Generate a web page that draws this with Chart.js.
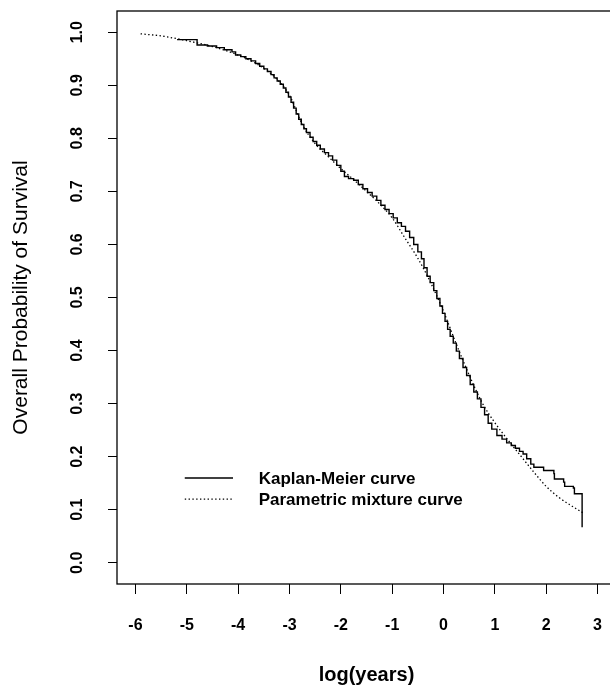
<!DOCTYPE html>
<html>
<head>
<meta charset="utf-8">
<script src="https://cdn.jsdelivr.net/npm/chart.js"></script>
<style>
html,body{margin:0;padding:0;background:#fff;overflow:hidden;width:610px;height:688px;}
canvas{display:block;}
</style>
</head>
<body>
<canvas id="c" width="640" height="688"></canvas>
<script>
// ---- data ----
const kmX = [-5.19,-4.80,-4.60,-4.42,-4.27,-4.12,-4.05,-3.95,-3.85,-3.75,-3.66,-3.58,-3.50,-3.43,-3.36,-3.30,-3.24,-3.18,-3.12,-3.07,-3.02,-2.97,-2.92,-2.87,-2.82,-2.77,-2.72,-2.67,-2.60,-2.54,-2.47,-2.40,-2.32,-2.24,-2.16,-2.08,-2.00,-1.93,-1.85,-1.75,-1.66,-1.57,-1.48,-1.39,-1.30,-1.22,-1.14,-1.06,-0.98,-0.90,-0.82,-0.74,-0.66,-0.58,-0.50,-0.43,-0.38,-0.32,-0.26,-0.19,-0.13,-0.07,-0.02,0.03,0.08,0.13,0.19,0.25,0.31,0.38,0.45,0.52,0.59,0.66,0.73,0.80,0.87,0.94,1.04,1.14,1.23,1.32,1.40,1.48,1.55,1.62,1.70,1.76,1.95,2.15,2.16,2.34,2.36,2.53,2.55,2.70,2.70];
const kmY = [0.986,0.976,0.974,0.971,0.967,0.963,0.957,0.954,0.950,0.946,0.941,0.936,0.931,0.926,0.920,0.914,0.908,0.902,0.895,0.887,0.878,0.868,0.857,0.846,0.836,0.826,0.818,0.811,0.802,0.794,0.787,0.780,0.773,0.767,0.759,0.749,0.738,0.728,0.724,0.721,0.713,0.705,0.698,0.691,0.683,0.674,0.666,0.658,0.650,0.641,0.634,0.625,0.613,0.600,0.586,0.573,0.556,0.540,0.528,0.513,0.498,0.484,0.470,0.455,0.440,0.427,0.414,0.399,0.385,0.368,0.353,0.336,0.322,0.309,0.293,0.279,0.263,0.252,0.240,0.233,0.226,0.221,0.216,0.210,0.205,0.196,0.186,0.180,0.174,0.168,0.158,0.152,0.144,0.141,0.130,0.128,0.067];
const pmX = [-5.9,-5.5,-5.0,-4.5,-4.0,-3.75,-3.5,-3.25,-3.0,-2.75,-2.5,-2.25,-2.0,-1.75,-1.5,-1.25,-1.0,-0.75,-0.5,-0.25,0.0,0.25,0.5,0.75,1.0,1.25,1.5,1.75,2.0,2.25,2.5,2.72];
const pmY = [0.997,0.993,0.984,0.973,0.957,0.946,0.932,0.912,0.881,0.826,0.790,0.766,0.743,0.722,0.700,0.677,0.650,0.612,0.574,0.528,0.474,0.412,0.354,0.302,0.264,0.232,0.202,0.172,0.144,0.123,0.107,0.094];
const xTicks = [-6,-5,-4,-3,-2,-1,0,1,2,3];
const yTicks = [0.0,0.1,0.2,0.3,0.4,0.5,0.6,0.7,0.8,0.9,1.0];
const seriesNames = ['Kaplan-Meier curve','Parametric mixture curve'];
const xTitle = 'log(years)';
const yTitle = 'Overall Probability of Survival';

const FONT = "'Liberation Sans', Arial, Helvetica, sans-serif";
Chart.defaults.color = '#000';
Chart.defaults.font.family = FONT;

const km = kmX.map((x,i)=>({x:x,y:kmY[i]}));
const pm = pmX.map((x,i)=>({x:x,y:pmY[i]}));

const boxPlugin = {
  id:'box',
  afterDraw(chart){
    const a = chart.chartArea, ctx = chart.ctx;
    ctx.save();
    ctx.strokeStyle = '#000';
    ctx.lineWidth = 1.3;
    ctx.strokeRect(a.left, a.top, a.right-a.left, a.bottom-a.top);
    ctx.restore();
  }
};

const legendPlugin = {
  id:'inlegend',
  afterDraw(chart){
    const xs = chart.scales.x, ys = chart.scales.y, ctx = chart.ctx;
    const rows = [{y:0.16, dash:[], w:1.5},{y:0.12, dash:[1.4,2.4], w:1.3}];
    ctx.save();
    rows.forEach((r,i)=>{
      const py = ys.getPixelForValue(r.y);
      ctx.beginPath();
      ctx.setLineDash(r.dash);
      ctx.lineWidth = r.w;
      ctx.strokeStyle = '#000';
      ctx.moveTo(xs.getPixelForValue(-5.04), py);
      ctx.lineTo(xs.getPixelForValue(-4.10), py);
      ctx.stroke();
      ctx.setLineDash([]);
      ctx.fillStyle = '#000';
      ctx.font = "bold 17px " + FONT;
      ctx.textBaseline = 'middle';
      ctx.textAlign = 'left';
      ctx.fillText(seriesNames[i], xs.getPixelForValue(-3.6), py+1);
    });
    ctx.restore();
  }
};

new Chart(document.getElementById('c'), {
  type:'line',
  data:{
    datasets:[
      {label:seriesNames[0], data:km, stepped:true, borderColor:'#000', borderWidth:1.4, pointRadius:0, fill:false},
      {label:seriesNames[1], data:pm, borderColor:'#000', borderWidth:1.3, borderDash:[1.4,2.4], pointRadius:0, fill:false, cubicInterpolationMode:'monotone'}
    ]
  },
  options:{
    responsive:false,
    animation:false,
    events:[],
    layout:{padding:{left:0, top:11, right:24, bottom:0}},
    plugins:{legend:{display:false}, tooltip:{enabled:false}},
    scales:{
      x:{
        type:'linear', min:-6.36, max:3.36,
        afterBuildTicks(s){ s.ticks = xTicks.map(v=>({value:v})); },
        afterFit(s){ s.height = 104; s.paddingLeft = 0; s.paddingRight = 0; },
        grid:{drawOnChartArea:false, drawTicks:true, tickLength:10, color:'#000', lineWidth:1},
        border:{display:false},
        ticks:{font:{size:16, weight:'bold'}, padding:22, maxRotation:0, autoSkip:false, callback:(v)=>String(v)},
        title:{display:true, text:xTitle, font:{size:20, weight:'bold', lineHeight:1.3}, padding:0}
      },
      y:{
        type:'linear', min:-0.04, max:1.04,
        afterBuildTicks(s){ s.ticks = yTicks.map(v=>({value:v})); },
        afterFit(s){ s.width = 117; s.paddingTop = 0; s.paddingBottom = 0; },
        grid:{drawOnChartArea:false, drawTicks:true, tickLength:9, color:'#000', lineWidth:1},
        border:{display:false},
        ticks:{font:{size:16, weight:'bold'}, padding:19, minRotation:90, maxRotation:90, crossAlign:'center', autoSkip:false, callback:(v)=>Number(v).toFixed(1)},
        title:{display:true, text:yTitle, font:{size:21, weight:'normal', lineHeight:1.2}, padding:{top:9,bottom:9}}
      }
    }
  },
  plugins:[boxPlugin, legendPlugin]
});
</script>
</body>
</html>
